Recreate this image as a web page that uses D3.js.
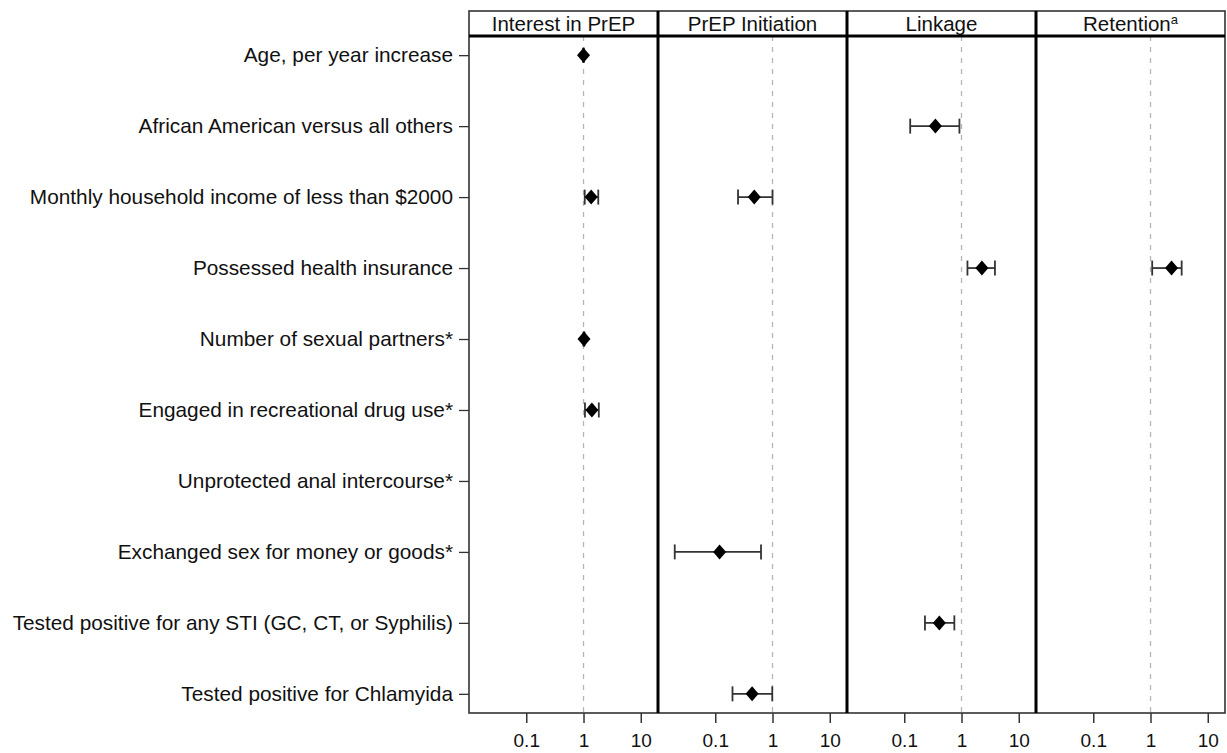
<!DOCTYPE html>
<html>
<head>
<meta charset="utf-8">
<script src="https://cdn.jsdelivr.net/npm/d3@7"></script>
<style>
  body { margin: 0; background: #fff; }
  text { font-family: Arial, "Liberation Sans", sans-serif; fill: #111; }
</style>
</head>
<body>
<div id="chart"></div>
<script>
// panels and row labels
var panels = ["Interest in PrEP", "PrEP Initiation", "Linkage", "Retention"];
var rows = [
  "Age, per year increase",
  "African American versus all others",
  "Monthly household income of less than $2000",
  "Possessed health insurance",
  "Number  of sexual partners*",
  "Engaged in recreational drug use*",
  "Unprotected anal intercourse*",
  "Exchanged sex for money or goods*",
  "Tested positive for any STI (GC, CT, or Syphilis)",
  "Tested positive for Chlamyida"
];
var ticks = [0.1, 1, 10];

// odds ratios and 95% CI per panel (null = not in model)
var interestOR = [1.0, null, 1.36, null, 1.02, 1.4, null, null, null, null];
var interestLo = [0.98, null, 1.05, null, 1.0, 1.06, null, null, null, null];
var interestHi = [1.02, null, 1.81, null, 1.04, 1.85, null, null, null, null];

var initiationOR = [null, null, 0.48, null, null, null, null, 0.119, null, 0.44];
var initiationLo = [null, null, 0.25, null, null, null, null, 0.0196, null, 0.20];
var initiationHi = [null, null, 1.0, null, null, null, null, 0.63, null, 0.99];

var linkageOR = [null, 0.35, null, 2.27, null, null, null, null, 0.41, null];
var linkageLo = [null, 0.127, null, 1.27, null, null, null, null, 0.23, null];
var linkageHi = [null, 0.92, null, 3.84, null, null, null, null, 0.75, null];

var retentionOR = [null, null, null, 2.33, null, null, null, null, null, null];
var retentionLo = [null, null, null, 1.07, null, null, null, null, null, null];
var retentionHi = [null, null, null, 3.5, null, null, null, null, null, null];

var panelData = [
  [interestOR, interestLo, interestHi],
  [initiationOR, initiationLo, initiationHi],
  [linkageOR, linkageLo, linkageHi],
  [retentionOR, retentionLo, retentionHi]
];

var width = 1227, height = 753;
var plotLeft = 469, plotRight = 1225, plotTop = 11, headBottom = 36, plotBottom = 713;

var svg = d3.select('#chart')
  .append('svg')
  .attr('width', width)
  .attr('height', height);

var px = d3.scaleBand().domain(panels).range([plotLeft, plotRight]);
var y = d3.scalePoint().domain(rows).range([headBottom, plotBottom]).padding(0.27);

// left axis with row labels
var yAxis = svg.append('g')
  .attr('transform', `translate(${plotLeft},0)`)
  .call(d3.axisLeft(y).tickSize(10).tickPadding(6));
yAxis.select('.domain').remove();
yAxis.selectAll('line').attr('stroke', '#333').attr('stroke-width', 1.3);
yAxis.selectAll('text').style('font-size', '20.8px').attr('fill', '#111');

panels.forEach(function (p, i) {
  var x0 = px(p), x1 = x0 + px.bandwidth();
  var x = d3.scaleLog().domain([0.01, 20]).range([x0, x1]);
  var g = svg.append('g');

  // reference line at OR = 1
  g.append('line')
    .attr('x1', x(1)).attr('x2', x(1))
    .attr('y1', headBottom).attr('y2', plotBottom)
    .attr('stroke', '#b5b5b5')
    .attr('stroke-width', 1.3)
    .attr('stroke-dasharray', '5,6');

  // bottom axis
  var xa = svg.append('g')
    .attr('transform', `translate(0,${plotBottom})`)
    .call(d3.axisBottom(x).tickValues(ticks).tickFormat(d3.format('~g')).tickSize(10).tickPadding(11));
  xa.select('.domain').remove();
  xa.selectAll('line').attr('stroke', '#333').attr('stroke-width', 1.5);
  xa.selectAll('text').style('font-size', '19px').attr('fill', '#111');

  // header
  var t = svg.append('text')
    .attr('x', (x0 + x1) / 2)
    .attr('y', 31)
    .attr('text-anchor', 'middle')
    .style('font-size', '20.5px')
    .text(p);
  if (p == "Retention") {
    t.append('tspan').attr('dy', -7).style('font-size', '13px').text('a');
  }

  var or = panelData[i][0], lo = panelData[i][1], hi = panelData[i][2];
  var pts = rows.map(function (r, j) { return { row: r, or: or[j], lo: lo[j], hi: hi[j] }; })
    .filter(function (d) { return d.or != null; });

  var ci = g.selectAll('.ci').data(pts).enter().append('g').attr('class', 'ci')
    .attr('stroke', '#333').attr('stroke-width', 1.8);
  ci.append('line')
    .attr('x1', d => x(d.lo)).attr('x2', d => x(d.hi))
    .attr('y1', d => y(d.row)).attr('y2', d => y(d.row));
  ci.append('line')
    .attr('x1', d => x(d.lo)).attr('x2', d => x(d.lo))
    .attr('y1', d => y(d.row) - 7.5).attr('y2', d => y(d.row) + 7.5);
  ci.append('line')
    .attr('x1', d => x(d.hi)).attr('x2', d => x(d.hi))
    .attr('y1', d => y(d.row) - 7.5).attr('y2', d => y(d.row) + 7.5);

  g.selectAll('.pt').data(pts).enter().append('path')
    .attr('class', 'pt')
    .attr('d', 'M0,-7.5L6.5,0L0,7.5L-6.5,0Z')
    .attr('transform', d => `translate(${x(d.or)},${y(d.row)})`)
    .attr('fill', '#000');
});

// frame
svg.append('rect')
  .attr('x', plotLeft).attr('y', plotTop)
  .attr('width', plotRight - plotLeft).attr('height', plotBottom - plotTop)
  .attr('fill', 'none').attr('stroke', '#333').attr('stroke-width', 1.6);
svg.append('line')
  .attr('x1', plotLeft).attr('x2', plotRight)
  .attr('y1', headBottom).attr('y2', headBottom)
  .attr('stroke', '#000').attr('stroke-width', 3);
svg.selectAll('.divider').data(panels.slice(1)).enter().append('line')
  .attr('class', 'divider')
  .attr('x1', d => px(d)).attr('x2', d => px(d))
  .attr('y1', plotTop).attr('y2', plotBottom)
  .attr('stroke', '#000').attr('stroke-width', 3);
</script>
</body>
</html>
